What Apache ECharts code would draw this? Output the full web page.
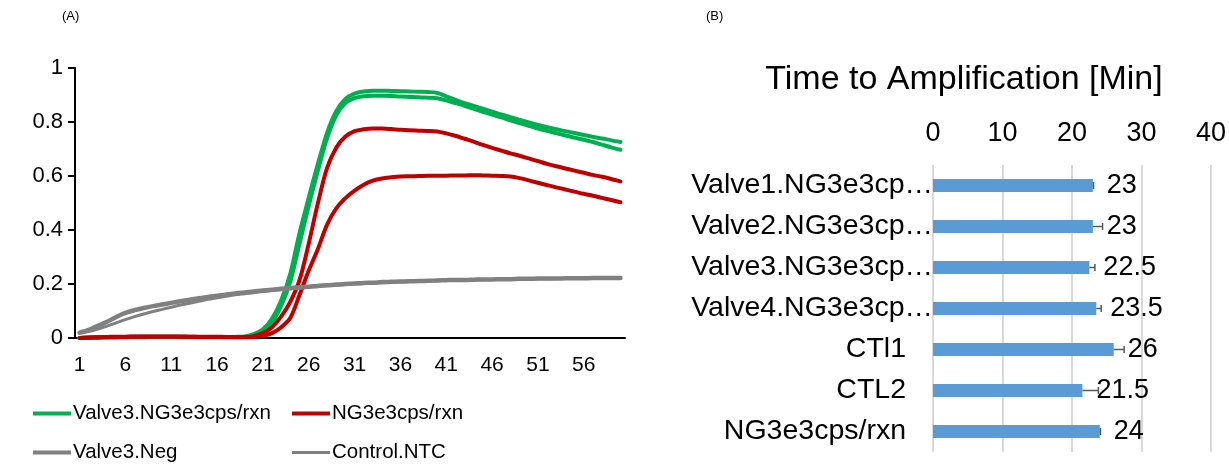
<!DOCTYPE html>
<html>
<head>
<meta charset="utf-8">
<script src="https://cdn.jsdelivr.net/npm/echarts@6/dist/echarts.min.js"></script>
<style>
  html, body { margin: 0; padding: 0; background: #fff; }
  #chart { width: 1229px; height: 465px; }
</style>
</head>
<body>
<div id="chart"></div>
<script>
// ---- Panel A: amplification curves (cycles 1..60) ----
const cycles = Array.from({ length: 60 }, (_, i) => String(i + 1));

const valve3PosRep1 = [0.000,0.001,0.002,0.003,0.003,0.004,0.004,0.005,0.005,0.005,
  0.005,0.004,0.004,0.004,0.004,0.004,0.003,0.004,0.006,0.014,
  0.032,0.072,0.140,0.240,0.390,0.520,0.645,0.760,0.840,0.885,
  0.905,0.913,0.916,0.916,0.915,0.914,0.913,0.912,0.911,0.908,
  0.895,0.882,0.870,0.860,0.849,0.838,0.828,0.818,0.808,0.798,
  0.789,0.781,0.773,0.766,0.759,0.752,0.745,0.739,0.732,0.726];

const valve3PosRep2 = [0.000,0.001,0.001,0.002,0.002,0.003,0.003,0.003,0.004,0.004,
  0.004,0.003,0.003,0.003,0.003,0.003,0.003,0.003,0.004,0.010,
  0.024,0.058,0.120,0.210,0.350,0.490,0.620,0.740,0.825,0.870,
  0.888,0.895,0.897,0.897,0.896,0.894,0.893,0.892,0.890,0.888,
  0.880,0.870,0.860,0.849,0.838,0.827,0.817,0.806,0.796,0.786,
  0.776,0.767,0.759,0.750,0.742,0.734,0.726,0.716,0.706,0.697];

const ng3Rep1 = [0.000,0.002,0.003,0.004,0.005,0.005,0.006,0.006,0.006,0.006,
  0.006,0.006,0.005,0.005,0.005,0.005,0.004,0.004,0.004,0.007,
  0.018,0.040,0.080,0.135,0.215,0.350,0.500,0.630,0.705,0.746,
  0.766,0.773,0.776,0.776,0.774,0.771,0.769,0.768,0.767,0.765,
  0.758,0.749,0.738,0.727,0.715,0.704,0.694,0.684,0.675,0.665,
  0.655,0.645,0.636,0.628,0.620,0.612,0.604,0.597,0.589,0.580];

const ng3Rep2 = [0.000,0.001,0.002,0.003,0.004,0.004,0.005,0.005,0.005,0.005,
  0.005,0.005,0.005,0.004,0.004,0.004,0.004,0.003,0.003,0.004,
  0.008,0.018,0.040,0.075,0.160,0.250,0.330,0.420,0.480,0.518,
  0.546,0.568,0.583,0.591,0.595,0.598,0.599,0.600,0.601,0.601,
  0.601,0.602,0.602,0.603,0.602,0.601,0.600,0.598,0.592,0.584,
  0.575,0.566,0.558,0.550,0.542,0.534,0.527,0.519,0.511,0.503];

const valve3Neg = [0.020,0.030,0.045,0.060,0.078,0.093,0.103,0.111,0.118,0.124,
  0.130,0.136,0.142,0.147,0.152,0.157,0.161,0.165,0.169,0.172,
  0.176,0.179,0.182,0.185,0.188,0.190,0.193,0.195,0.198,0.200,
  0.202,0.204,0.205,0.207,0.208,0.209,0.210,0.211,0.212,0.213,
  0.214,0.215,0.215,0.216,0.217,0.217,0.218,0.218,0.219,0.219,
  0.220,0.220,0.220,0.221,0.221,0.221,0.222,0.222,0.222,0.222];

const controlNTC = [0.018,0.024,0.033,0.044,0.056,0.068,0.079,0.089,0.098,0.106,
  0.114,0.122,0.129,0.136,0.143,0.149,0.155,0.160,0.164,0.168,
  0.172,0.176,0.179,0.182,0.185,0.188,0.191,0.194,0.196,0.198,
  0.200,0.202,0.204,0.205,0.207,0.208,0.209,0.210,0.211,0.212,
  0.213,0.214,0.215,0.215,0.216,0.217,0.217,0.218,0.218,0.219,
  0.219,0.219,0.220,0.220,0.220,0.221,0.221,0.221,0.221,0.221];

// ---- Panel B: time to amplification ----
const ttaCategories = ['Valve1.NG3e3cp…', 'Valve2.NG3e3cp…', 'Valve3.NG3e3cp…',
  'Valve4.NG3e3cp…', 'CTl1', 'CTL2', 'NG3e3cps/rxn'];
const ttaValues = [23, 23, 22.5, 23.5, 26, 21.5, 24];
const ttaErrors = [0.1, 1.4, 0.8, 0.7, 1.5, 2.3, 0.1];
const ttaTicks = [0, 10, 20, 30, 40];

const FONT = '"Liberation Sans", Arial, sans-serif';
const GREEN = '#00B050', RED = '#C00000', GRAY = '#808080', BLUE = '#5B9BD5';

function curve(name, data, color, width) {
  return {
    type: 'line', name, data, xAxisIndex: 0, yAxisIndex: 0,
    symbol: 'none', smooth: 0.3, silent: true,
    lineStyle: { color, width, cap: 'round', join: 'round' },
    itemStyle: { color }
  };
}

function legendItem(name, left, top, h) {
  return {
    data: [name], left, top, orient: 'horizontal', padding: 0,
    icon: 'rect', itemWidth: 38, itemHeight: h, selectedMode: false,
    textStyle: { fontFamily: FONT, fontSize: 20.5, color: '#000', padding: [0, 0, 0, -3] }
  };
}

const chart = echarts.init(document.getElementById('chart'), null, { renderer: 'canvas' });

chart.setOption({
  animation: false,
  backgroundColor: '#fff',
  textStyle: { fontFamily: FONT },
  graphic: [
    { type: 'text', left: 62, top: 10, style: { text: '(A)', font: '13px ' + FONT, fill: '#000' } },
    { type: 'text', left: 706, top: 10, style: { text: '(B)', font: '13px ' + FONT, fill: '#000' } },
    { type: 'text', x: 964, y: 80, style: { text: 'Time to Amplification [Min]', font: '34px ' + FONT,
      fill: '#000', textAlign: 'center', textVerticalAlign: 'middle' } }
  ],
  legend: [
    legendItem('Valve3.NG3e3cps/rxn', 33, 403, 4),
    legendItem('NG3e3cps/rxn', 292, 403, 4),
    legendItem('Valve3.Neg', 33, 442, 4),
    legendItem('Control.NTC', 292, 442, 3)
  ],
  grid: [
    { left: 75, top: 68, width: 550, height: 270 },
    { left: 933, top: 165, width: 278, height: 287 }
  ],
  xAxis: [
    {
      gridIndex: 0, type: 'category', data: cycles, boundaryGap: true,
      axisLine: { lineStyle: { color: '#000', width: 2 } },
      axisTick: { interval: 4, length: 7, lineStyle: { color: '#000', width: 2 } },
      axisLabel: { interval: 4, fontSize: 21, color: '#000', margin: 17, fontFamily: FONT },
      splitLine: { show: false }
    },
    {
      gridIndex: 1, type: 'value', position: 'top', min: ttaTicks[0], max: ttaTicks[ttaTicks.length - 1],
      interval: ttaTicks[1] - ttaTicks[0],
      axisLine: { show: false }, axisTick: { show: false },
      axisLabel: { fontSize: 27, color: '#000', margin: 18, fontFamily: FONT },
      splitLine: { show: true, lineStyle: { color: '#D9D9D9', width: 2 } }
    }
  ],
  yAxis: [
    {
      gridIndex: 0, type: 'value', min: 0, max: 1, interval: 0.2,
      axisLine: { show: true, lineStyle: { color: '#000', width: 2 } },
      axisTick: { show: true, length: 7, lineStyle: { color: '#000', width: 2 } },
      axisLabel: { fontSize: 22, color: '#000', margin: 12, fontFamily: FONT },
      splitLine: { show: false }
    },
    {
      gridIndex: 1, type: 'category', data: ttaCategories, inverse: true,
      axisLine: { show: false }, axisTick: { show: false },
      axisLabel: {
        margin: 0, color: '#000', fontFamily: FONT,
        formatter: v => v.endsWith('…') ? '{t|' + v + '}' : '{t|' + v + '}{s|}',
        rich: {
          t: { fontSize: 28.5, color: '#000', fontFamily: FONT },
          s: { width: 27 }
        }
      }
    }
  ],
  series: [
    curve('Valve3.NG3e3cps/rxn', valve3PosRep1, GREEN, 4),
    curve('Valve3.NG3e3cps/rxn', valve3PosRep2, GREEN, 4),
    curve('NG3e3cps/rxn', ng3Rep1, RED, 4),
    curve('NG3e3cps/rxn', ng3Rep2, RED, 4),
    curve('Valve3.Neg', valve3Neg, GRAY, 4.5),
    curve('Control.NTC', controlNTC, GRAY, 3),
    {
      type: 'bar', xAxisIndex: 1, yAxisIndex: 1, data: ttaValues, barWidth: 13,
      itemStyle: { color: BLUE }, silent: true,
      label: { show: true, position: 'right', distance: 14, fontSize: 27, color: '#000', fontFamily: FONT }
    },
    {
      type: 'custom', xAxisIndex: 1, yAxisIndex: 1, silent: true, z: 5,
      data: ttaValues.map((v, i) => [v, i, ttaErrors[i]]),
      encode: { x: 0, y: 1 },
      renderItem: (params, api) => {
        const v = api.value(0), idx = api.value(1), e = api.value(2);
        const p0 = api.coord([v, idx]);
        const p1 = api.coord([v + e, idx]);
        const st = { stroke: '#595959', lineWidth: 1.5 };
        return {
          type: 'group',
          children: [
            { type: 'line', shape: { x1: p0[0], y1: p0[1], x2: p1[0], y2: p1[1] }, style: st },
            { type: 'line', shape: { x1: p1[0], y1: p1[1] - 3.5, x2: p1[0], y2: p1[1] + 3.5 }, style: st }
          ]
        };
      }
    }
  ]
});
</script>
</body>
</html>
